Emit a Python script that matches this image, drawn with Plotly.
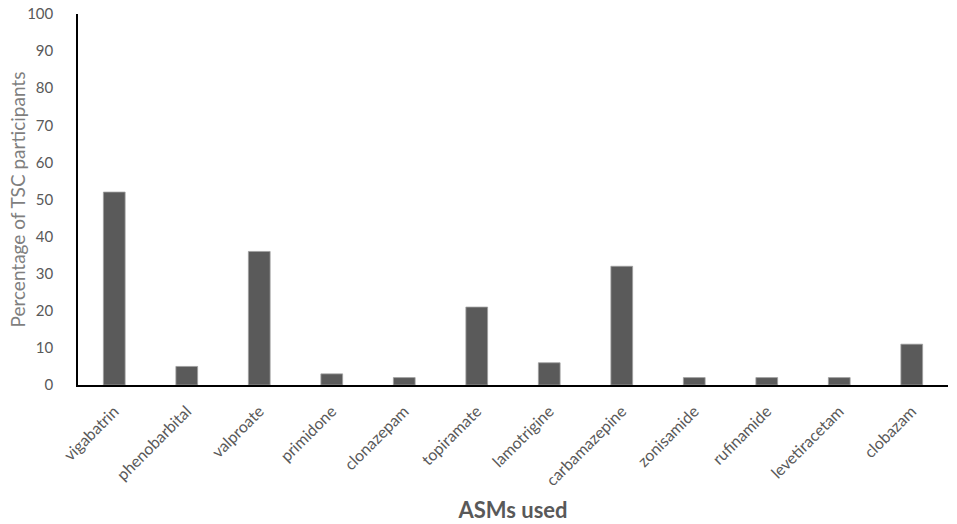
import plotly.graph_objects as go

categories = ["vigabatrin", "phenobarbital", "valproate", "primidone", "clonazepam",
              "topiramate", "lamotrigine", "carbamazepine", "zonisamide", "rufinamide",
              "levetiracetam", "clobazam"]
values = [52, 5, 36, 3, 2, 21, 6, 32, 2, 2, 2, 11]
y_ticks = [0, 10, 20, 30, 40, 50, 60, 70, 80, 90, 100]

fig = go.Figure(go.Bar(
    x=categories, y=values, width=0.3,
    marker=dict(color="#5a5a5a", line=dict(color="#a0a0a0", width=0.8)),
))

fig.update_layout(
    width=957, height=524,
    margin=dict(l=78, r=9, t=14, b=139),
    paper_bgcolor="white", plot_bgcolor="white",
    font=dict(family="Lato, Open Sans, sans-serif", color="#595959"),
    showlegend=False,
    xaxis=dict(
        automargin=False,
        showline=True, linecolor="black", linewidth=1.5,
        tickangle=-45, tickfont=dict(size=16, color="#595959"),
        ticks="", ticklabelstandoff=9,
        title=dict(text="<b>ASMs used</b>", font=dict(size=22, color="#595959"), standoff=15),
        showgrid=False,
    ),
    yaxis=dict(
        automargin=False,
        range=[0, 100], tickvals=y_ticks,
        showline=True, linecolor="black", linewidth=1.5,
        ticks="", ticklabelstandoff=20, ticklabeloverflow="allow",
        tickfont=dict(size=15, color="#595959"),
        showgrid=False, zeroline=False,
    ),
    annotations=[dict(
        text="Percentage of TSC participants", textangle=-90,
        xref="paper", yref="paper", x=-61 / 870, y=0.5,
        xanchor="center", yanchor="middle", showarrow=False,
        font=dict(size=19, color="#7f7f7f"),
    )],
)

fig.write_html("out.html", config={"displayModeBar": False},
               post_script="document.body.style.margin='0';")
